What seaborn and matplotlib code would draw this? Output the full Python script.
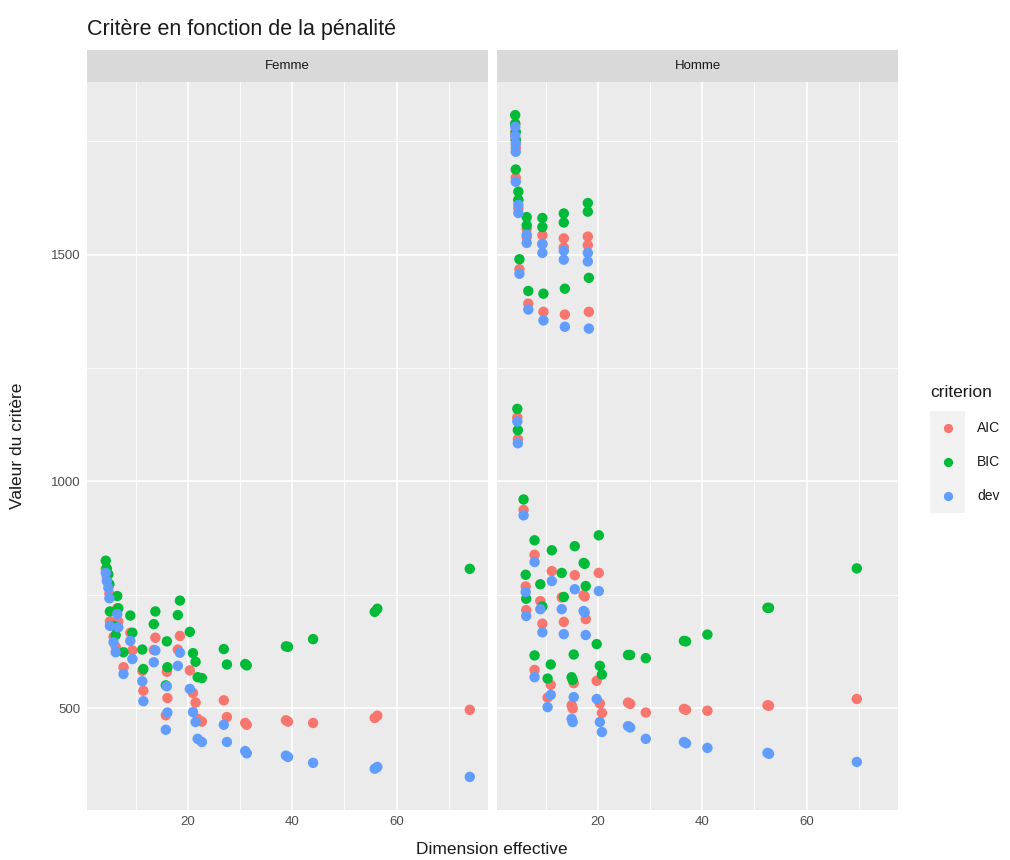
import pandas as pd
import numpy as np
import matplotlib.pyplot as plt
import seaborn as sns
from matplotlib.ticker import MultipleLocator

# valeurs : dimension effective et criteres, par sexe
femme_dim = [4.3, 4.5, 4.8, 5.0, 5.1, 5.8, 6.2, 6.5, 6.7, 7.7, 9.0, 9.4,
             11.3, 11.5, 13.5, 13.8, 16.0, 16.1, 15.8, 18.1, 18.5, 20.4,
             21.0, 21.5, 21.9, 22.7, 26.9, 27.5, 31.0, 31.3, 38.8, 39.2,
             44.0, 55.8, 56.3, 74.0]
femme_dev = [798, 780, 765, 742, 681, 645, 623, 707, 678, 575, 648, 608,
             559, 515, 601, 627, 548, 490, 452, 593, 622, 542,
             491, 469, 432, 425, 463, 425, 405, 400, 395, 392,
             379, 366, 370, 348]
femme_aic = [807, 789, 775, 752, 691, 657, 635, 720, 691, 590, 666, 627,
             582, 538, 628, 655, 580, 522, 484, 629, 659, 583,
             533, 512, 476, 470, 517, 480, 467, 463, 473, 470,
             467, 478, 483, 496]
femme_bic = [825, 808, 795, 773, 713, 681, 661, 747, 720, 623, 704, 666,
             629, 586, 685, 713, 647, 590, 550, 705, 737, 668,
             621, 602, 568, 566, 630, 596, 597, 594, 636, 635,
             652, 712, 719, 807]

homme_dim = [4.2, 4.2, 4.3, 4.3, 4.3, 4.8, 4.8, 5.0, 6.4, 6.4, 6.7, 9.4,
             9.4, 9.6, 13.5, 13.5, 13.7, 18.1, 18.1, 18.3, 4.6, 4.7,
             5.8, 7.9, 11.2, 15.6, 20.2, 17.3, 17.5, 13.1, 9.0, 6.2,
             6.3, 9.4, 13.5, 17.7, 19.8, 7.9, 11.0, 10.4, 15.4, 15.0,
             15.2, 20.4, 20.8, 25.8, 26.2, 29.2, 36.5, 36.9, 41.0, 52.5,
             52.8, 69.6]
homme_dev = [1782, 1762, 1745, 1727, 1661, 1610, 1592, 1458, 1544, 1526, 1379, 1524,
             1504, 1355, 1509, 1489, 1341, 1504, 1485, 1337, 1132, 1084,
             925, 822, 780, 762, 758, 714, 711, 718, 718, 756,
             703, 667, 663, 661, 520, 568, 529, 502, 524, 476,
             469, 469, 447, 460, 457, 432, 425, 422, 412, 401,
             399, 381]
homme_aic = [1790, 1770, 1754, 1736, 1670, 1620, 1602, 1468, 1557, 1539, 1392, 1543,
             1523, 1374, 1536, 1516, 1368, 1540, 1521, 1374, 1141, 1093,
             937, 838, 802, 793, 798, 749, 746, 744, 736, 768,
             716, 686, 690, 696, 560, 584, 551, 523, 555, 506,
             499, 510, 489, 512, 509, 490, 498, 496, 494, 506,
             505, 520]
homme_bic = [1808, 1788, 1771, 1753, 1688, 1639, 1621, 1490, 1583, 1565, 1420, 1581,
             1561, 1414, 1591, 1571, 1425, 1614, 1595, 1449, 1160, 1113,
             960, 870, 848, 857, 881, 820, 818, 798, 773, 794,
             741, 724, 745, 769, 641, 616, 596, 565, 618, 568,
             562, 593, 574, 617, 617, 610, 648, 647, 662, 721,
             721, 808]

criteres = ["AIC", "BIC", "dev"]
couleurs = ["#F8766D", "#00BA38", "#619CFF"]
sexes = ["Femme", "Homme"]

# tableau long pour seaborn
rows = []
for sexe, dim, vals in [("Femme", femme_dim, [femme_aic, femme_bic, femme_dev]),
                        ("Homme", homme_dim, [homme_aic, homme_bic, homme_dev])]:
    for crit, v in zip(criteres, vals):
        rows.append(pd.DataFrame({"dim": dim, "valeur": v, "criterion": crit, "sexe": sexe}))
df = pd.concat(rows, ignore_index=True)

sns.set_theme(style="darkgrid")
plt.rcParams["font.family"] = ["Liberation Sans", "DejaVu Sans"]

W, H = 1010, 860
fig = plt.figure(figsize=(W / 100, H / 100), dpi=100)
fig.patch.set_facecolor("white")

panel_left = [87, 497]
panel_w = 401
panel_top, panel_bot = 82, 810

axes = []
for i, sexe in enumerate(sexes):
    rect = [panel_left[i] / W, 1 - panel_bot / H, panel_w / W, (panel_bot - panel_top) / H]
    if i == 0:
        ax = fig.add_axes(rect)
    else:
        ax = fig.add_axes(rect, sharex=axes[0], sharey=axes[0])
    sub = df[df["sexe"] == sexe]
    sns.scatterplot(data=sub, x="dim", y="valeur", hue="criterion", hue_order=criteres,
                    palette=couleurs, s=56, linewidth=0, alpha=1, legend=False, ax=ax, zorder=3)
    ax.set_facecolor("#EBEBEB")
    for sp in ax.spines.values():
        sp.set_visible(False)
    ax.xaxis.set_major_locator(MultipleLocator(20))
    ax.xaxis.set_minor_locator(MultipleLocator(10))
    ax.yaxis.set_major_locator(MultipleLocator(500))
    ax.yaxis.set_minor_locator(MultipleLocator(250))
    ax.grid(which="major", color="white", linewidth=1.2)
    ax.grid(which="minor", color="white", linewidth=0.6)
    ax.set_axisbelow(True)
    ax.tick_params(which="major", length=2.6, width=0.8, color="#333333",
                   labelcolor="#4D4D4D", labelsize=9.5, pad=2)
    ax.tick_params(which="minor", length=0)
    ax.set_xlabel("")
    ax.set_ylabel("")
    if i == 1:
        ax.tick_params(axis="y", which="both", left=False, labelleft=False)
    axes.append(ax)

    # bandeau de facette
    sax = fig.add_axes([panel_left[i] / W, 1 - panel_top / H, panel_w / W, 32 / H])
    sax.set_facecolor("#D9D9D9")
    sax.set_xticks([])
    sax.set_yticks([])
    for sp in sax.spines.values():
        sp.set_visible(False)
    sax.text(0.5, 0.5, sexe, ha="center", va="center", fontsize=9.5, color="#1A1A1A",
             transform=sax.transAxes)

axes[0].margins(x=0.05, y=0.05)

fig.text(87 / W, 1 - 35 / H, "Critère en fonction de la pénalité", fontsize=15.5,
         color="#1A1A1A", ha="left", va="baseline")
fig.text(492 / W, 1 - 850 / H, "Dimension effective", fontsize=12.5,
         color="#1A1A1A", ha="center", va="center")
fig.text(18 / W, 1 - 446 / H, "Valeur du critère", fontsize=12.5, rotation=90,
         color="#1A1A1A", ha="center", va="center")

# legende
fig.text(930 / W, 1 - 397 / H, "criterion", fontsize=12.5, color="#1A1A1A",
         ha="left", va="baseline")
lax = fig.add_axes([930 / W, 1 - 513 / H, 35 / W, 102 / H])
lax.set_facecolor("#F2F2F2")
lax.set_xlim(0, 1)
lax.set_ylim(0, 3)
lax.set_xticks([])
lax.set_yticks([])
lax.grid(False)
for sp in lax.spines.values():
    sp.set_visible(False)
for k, (crit, col) in enumerate(zip(criteres, couleurs)):
    yk = 2.5 - k
    lax.scatter([0.5], [yk], s=44, color=col, linewidth=0)
    lax.text(1.34, yk, crit, fontsize=10, color="#1A1A1A", ha="left", va="center",
             transform=lax.transData, clip_on=False)

fig.savefig("out.png", dpi=100)
